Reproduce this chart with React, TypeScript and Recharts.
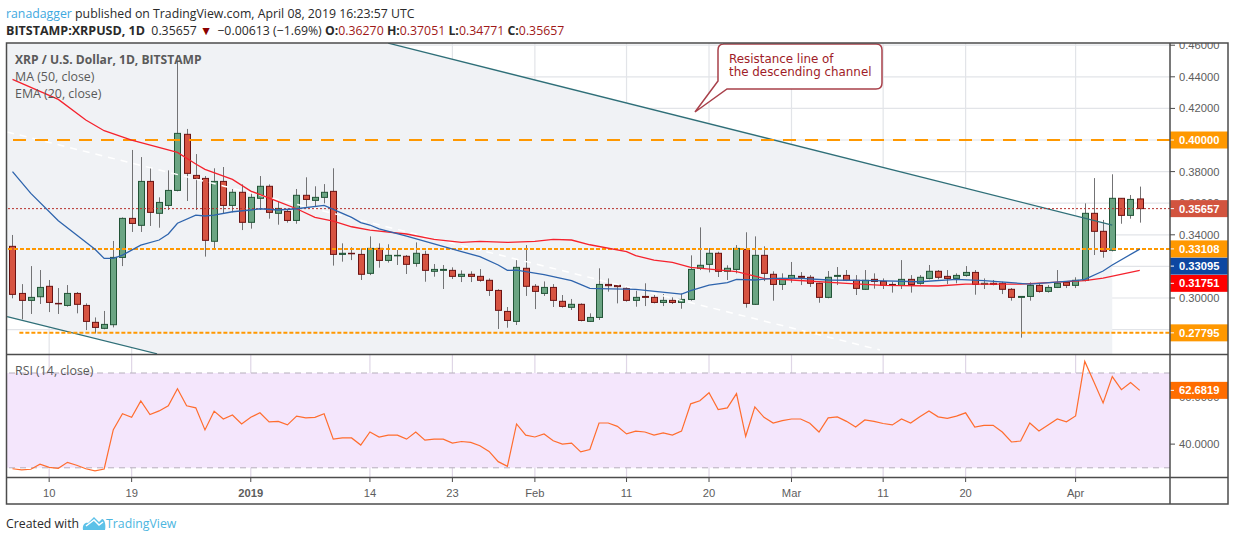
import {
  Area,
  Bar,
  CartesianGrid,
  ComposedChart,
  Line,
  ReferenceArea,
  ReferenceLine,
  XAxis,
  YAxis,
} from "recharts";

// daily candles, 2018-12-06 (day 0) to 2019-04-08 (day 123)
const opens = [
  0.3327, 0.3029, 0.2985, 0.3008, 0.3074, 0.2966, 0.2953, 0.3029, 0.2953, 0.2846, 0.2808, 0.2831, 0.3257, 0.3504, 0.346, 0.3738,
  0.3536, 0.3586, 0.3681, 0.4036, 0.3776, 0.3757, 0.3359, 0.3738, 0.3586, 0.3669, 0.3479, 0.3631, 0.3707, 0.3536, 0.3548, 0.3491,
  0.365, 0.3618, 0.3637, 0.3675, 0.3276, 0.3283, 0.3276, 0.3156, 0.3314, 0.3238, 0.3268, 0.3264, 0.3219, 0.3276, 0.3169, 0.3175,
  0.3175, 0.3137, 0.315, 0.3137, 0.3112, 0.3048, 0.2915, 0.2852, 0.3188, 0.3074, 0.3029, 0.3067, 0.2979, 0.2941, 0.296, 0.2852,
  0.2877, 0.3086, 0.308, 0.3061, 0.2985, 0.301, 0.3004, 0.2972, 0.2985, 0.2972, 0.2991, 0.3188, 0.3213, 0.3283, 0.3169, 0.3181,
  0.3308, 0.296, 0.327, 0.315, 0.3086, 0.3124, 0.3137, 0.3131, 0.3093, 0.3004, 0.3137, 0.3143, 0.3112, 0.3055, 0.3118, 0.3105,
  0.3086, 0.308, 0.3118, 0.3093, 0.3124, 0.3169, 0.3137, 0.3124, 0.3143, 0.3162, 0.3086, 0.3093, 0.3093, 0.3055, 0.3004, 0.301,
  0.308, 0.3042, 0.3067, 0.3099, 0.308, 0.3112, 0.3536, 0.3422, 0.3302, 0.3631, 0.3523, 0.3627,
];
const highs = [
  0.3399, 0.3088, 0.3202, 0.3177, 0.3114, 0.3063, 0.3082, 0.3038, 0.2966, 0.2877, 0.2918, 0.3361, 0.351, 0.3937, 0.3892, 0.3829,
  0.3637, 0.3808, 0.4494, 0.407, 0.3911, 0.3772, 0.3821, 0.3829, 0.369, 0.3719, 0.3671, 0.3772, 0.3719, 0.3612, 0.3561, 0.369,
  0.3764, 0.3707, 0.3721, 0.3821, 0.3346, 0.3321, 0.3314, 0.339, 0.3346, 0.334, 0.3304, 0.3272, 0.3352, 0.3299, 0.3215, 0.3209,
  0.3194, 0.3175, 0.3169, 0.3183, 0.3124, 0.3055, 0.2943, 0.324, 0.3335, 0.3088, 0.3105, 0.3088, 0.3019, 0.2994, 0.2966, 0.2903,
  0.3188, 0.3124, 0.3088, 0.3076, 0.3046, 0.3093, 0.3019, 0.3025, 0.3004, 0.3029, 0.327, 0.3447, 0.3316, 0.3293, 0.3207, 0.3335,
  0.3416, 0.339, 0.3327, 0.3169, 0.3156, 0.3228, 0.3164, 0.3145, 0.3097, 0.3171, 0.3196, 0.3177, 0.3145, 0.3177, 0.3156, 0.3124,
  0.3103, 0.324, 0.3145, 0.3145, 0.3209, 0.3177, 0.3177, 0.3156, 0.3202, 0.3177, 0.3124, 0.3114, 0.3103, 0.3063, 0.301, 0.3099,
  0.3093, 0.3082, 0.3177, 0.3107, 0.3131, 0.3599, 0.3759, 0.3494, 0.3783, 0.3631, 0.3652, 0.37051,
];
const lows = [
  0.2998, 0.2865, 0.2899, 0.2962, 0.2911, 0.2899, 0.2945, 0.2903, 0.2797, 0.2776, 0.2802, 0.2814, 0.3202, 0.3418, 0.3418, 0.3456,
  0.3445, 0.3557, 0.3675, 0.3614, 0.3557, 0.3262, 0.3308, 0.3536, 0.3542, 0.343, 0.3439, 0.3557, 0.3502, 0.3464, 0.3477, 0.347,
  0.3578, 0.3578, 0.3599, 0.3205, 0.323, 0.324, 0.3114, 0.3145, 0.3192, 0.3224, 0.3209, 0.3152, 0.3198, 0.3103, 0.3135, 0.3057,
  0.312, 0.3101, 0.3101, 0.3103, 0.3013, 0.2804, 0.2812, 0.2829, 0.3013, 0.293, 0.3013, 0.2943, 0.2939, 0.2924, 0.2852, 0.2848,
  0.2861, 0.304, 0.2966, 0.2977, 0.2945, 0.2949, 0.2966, 0.2949, 0.2962, 0.2932, 0.2983, 0.3177, 0.3162, 0.3133, 0.3114, 0.3156,
  0.2939, 0.2956, 0.3107, 0.2983, 0.3051, 0.3097, 0.3082, 0.307, 0.297, 0.2998, 0.3082, 0.3107, 0.3019, 0.3051, 0.3059, 0.3057,
  0.3034, 0.3057, 0.3034, 0.3084, 0.3118, 0.3118, 0.3088, 0.3093, 0.3135, 0.3021, 0.3057, 0.308, 0.3025, 0.2983, 0.2749, 0.2983,
  0.3034, 0.3034, 0.3063, 0.3063, 0.3063, 0.3105, 0.3272, 0.3255, 0.3295, 0.347, 0.3502, 0.34771,
];
const closes = [
  0.3023, 0.2985, 0.3004, 0.3067, 0.2972, 0.2964, 0.3029, 0.296, 0.2852, 0.2814, 0.2833, 0.3257, 0.3504, 0.3472, 0.3738, 0.3542,
  0.3605, 0.3681, 0.4042, 0.3789, 0.3757, 0.3365, 0.3738, 0.3586, 0.3669, 0.3479, 0.3637, 0.3707, 0.3542, 0.3567, 0.3491, 0.365,
  0.3624, 0.3637, 0.3669, 0.3276, 0.3283, 0.328, 0.315, 0.3314, 0.3238, 0.327, 0.327, 0.3213, 0.3283, 0.3175, 0.3181, 0.3181,
  0.3137, 0.315, 0.3137, 0.3112, 0.3048, 0.2922, 0.2858, 0.3194, 0.3074, 0.3042, 0.3067, 0.2985, 0.2947, 0.296, 0.2858, 0.2877,
  0.3086, 0.3078, 0.3072, 0.2985, 0.3004, 0.3004, 0.2972, 0.2985, 0.2972, 0.2991, 0.3181, 0.3207, 0.3283, 0.3169, 0.3188, 0.3314,
  0.2966, 0.327, 0.3156, 0.3086, 0.3124, 0.3143, 0.3131, 0.3093, 0.3004, 0.3131, 0.3143, 0.3112, 0.3061, 0.3112, 0.3105, 0.308,
  0.308, 0.3118, 0.3086, 0.3131, 0.3169, 0.3131, 0.3124, 0.3143, 0.3162, 0.3086, 0.3093, 0.3086, 0.3055, 0.3004, 0.301, 0.308,
  0.3042, 0.3067, 0.3093, 0.308, 0.3112, 0.3536, 0.3422, 0.3295, 0.3631, 0.3523, 0.3624, 0.35657,
];

const maDays = [0, 5, 8, 10, 13, 18, 20, 21, 24, 26, 29, 31, 33, 35, 37, 39, 43, 46, 49, 51, 54, 57, 59, 61, 63, 67, 68, 70, 72, 74, 79, 82, 85, 91, 95, 101, 104, 110, 113, 117, 119, 123];
const maValues = [
  0.4384, 0.4257, 0.4127, 0.4059, 0.4, 0.3922, 0.3848, 0.3814, 0.3751, 0.3677, 0.361, 0.3565, 0.351, 0.3487, 0.3451, 0.343, 0.3405, 0.3371, 0.3352, 0.3359, 0.3352,
  0.3359, 0.3371, 0.3367, 0.3337, 0.3293, 0.3268, 0.324, 0.3226, 0.3194, 0.3167, 0.3124, 0.3114, 0.3093, 0.308, 0.3076, 0.3088, 0.3088, 0.3097, 0.311, 0.3126, 0.31751,
];
const emaDays = [0, 2, 5, 7, 9, 10, 11, 12, 14, 16, 17, 18, 20, 21, 22, 24, 26, 27, 29, 31, 34, 35, 37, 38, 39, 40, 43, 46, 49, 51, 53, 54, 55, 58, 61, 63, 64, 68, 73, 74, 76, 78, 79, 81, 83, 86, 89, 94, 99, 103, 106, 111, 116, 117, 119, 120, 123];
const emaValues = [
  0.38, 0.3662, 0.3489, 0.3399, 0.3308, 0.3251, 0.3251, 0.3272, 0.3335, 0.3367, 0.3405, 0.3473, 0.3525, 0.3519, 0.3525, 0.3546, 0.3557, 0.3565, 0.3557, 0.3565,
  0.3586, 0.3561, 0.351, 0.3477, 0.3462, 0.3437, 0.3392, 0.3342, 0.3293, 0.3262, 0.3209, 0.3175, 0.3177, 0.3148, 0.311, 0.3061, 0.3059, 0.3055, 0.3025, 0.3046,
  0.3082, 0.3097, 0.3118, 0.3114, 0.3124, 0.3124, 0.3114, 0.311, 0.3103, 0.3118, 0.311, 0.3088, 0.311, 0.3118, 0.3171, 0.3209, 0.33095,
];
const rsiValues = [
  29.6, 29.1, 29.4, 31.5, 30.2, 29.8, 32.3, 31.1, 29.6, 28.7, 29.5, 46.1, 52.8, 51.3, 58.2, 52.5, 54.0, 56.2, 63.4, 56.2, 55.3, 46.0, 53.9, 50.6, 52.3, 48.5, 51.3, 53.2, 49.4, 49.6, 48.1,
  51.8, 51.1, 51.3, 52.8, 42.1, 42.6, 42.6, 39.6, 45.1, 43.0, 43.8, 43.8, 42.1, 45.1, 41.7, 42.1, 42.1, 40.4, 41.1, 40.7, 39.3, 36.9, 32.6, 30.6, 48.5, 43.8, 43.0, 44.3, 41.4, 40.0, 40.4,
  36.7, 37.7, 48.9, 48.9, 47.5, 44.3, 45.5, 45.1, 43.8, 44.7, 43.8, 45.5, 57.0, 58.3, 61.7, 54.6, 55.3, 61.3, 43.3, 55.7, 51.3, 48.9, 49.9, 50.6, 50.6, 48.8, 45.1, 51.1, 51.5, 49.6, 47.2,
  50.2, 49.6, 48.7, 48.1, 50.6, 48.9, 51.5, 54.0, 51.5, 50.9, 51.8, 53.2, 47.2, 47.9, 47.9, 45.1, 40.9, 41.3, 48.9, 45.5, 48.1, 50.6, 49.4, 51.9, 74.9, 66.2, 57.4, 68.5, 63.0, 66.0, 62.6819,
];

const tickDays = [4, 13, 26, 39, 48, 57, 67, 76, 85, 95, 104, 116];
const tickLabels = ["10", "19", "2019", "14", "23", "Feb", "11", "20", "Mar", "11", "20", "Apr"];

const priceGrid = [0.28, 0.3, 0.32, 0.34, 0.36, 0.38, 0.4, 0.42, 0.44, 0.46];
const rsiGrid = [40, 60];

const channelBand = [
  { day: -0.59, band: [0.2882, 0.4614] },
  { day: 15.77, band: [0.2646, 0.4614] },
  { day: 41.0, band: [0.2646, 0.4614] },
  { day: 120.0, band: [0.2646, 0.3462] },
];
const upperChannel = [
  { x: 41.0, y: 0.4613 },
  { x: 120.0, y: 0.3462 },
];
const lowerChannel = [
  { x: -0.59, y: 0.2882 },
  { x: 15.77, y: 0.2647 },
];
const middleChannel = [
  { x: -0.59, y: 0.4051 },
  { x: 94.65, y: 0.2671 },
];

const PRICE_DOMAIN = [0.26456, 0.4614];
const RSI_DOMAIN = [25.7, 77.6];
const DAY_DOMAIN = [-0.6, 126.3];

const priceBadges: Record<string, { text: string; fill: string; nudge: number }> = {
  "0.35657": { text: "0.35657", fill: "#d2543f", nudge: 0 },
  "0.4": { text: "0.40000", fill: "#ff9800", nudge: 0 },
  "0.33108": { text: "0.33108", fill: "#ff9800", nudge: 0 },
  "0.33095": { text: "0.33095", fill: "#0d47a1", nudge: 17 },
  "0.31751": { text: "0.31751", fill: "#ff0000", nudge: 13 },
  "0.27795": { text: "0.27795", fill: "#ff9800", nudge: 0 },
};
const priceTicks = [0.28, 0.3, 0.32, 0.34, 0.36, 0.38, 0.42, 0.44, 0.46, 0.4, 0.35657, 0.27795, 0.31751, 0.33095, 0.33108];

const candles = opens.map((open, i) => ({
  day: i,
  open,
  close: closes[i],
  high: highs[i],
  low: lows[i],
  range: [lows[i], highs[i]],
  ma: maDays.includes(i) ? maValues[maDays.indexOf(i)] : undefined,
  ema: emaDays.includes(i) ? emaValues[emaDays.indexOf(i)] : undefined,
  rsi: rsiValues[i],
}));

const AXIS_FONT = "'Liberation Sans', Arial, sans-serif";
const TEXT_FONT = "'Open Sans', sans-serif";
const GRID = "#e2e4e8";
const FRAME = "#4c4c4c";
const AXIS_SIZE = 11.2;

function Candle(props: any) {
  const { x, y, width, height, payload } = props;
  const cx = Math.round(x + width / 2) + 0.5;
  const ratio = height / (payload.high - payload.low);
  const top = y + (payload.high - Math.max(payload.open, payload.close)) * ratio;
  const bottom = y + (payload.high - Math.min(payload.open, payload.close)) * ratio;
  const up = payload.close >= payload.open;
  return (
    <g>
      <line x1={cx} x2={cx} y1={y} y2={y + height} stroke="#737375" strokeWidth={1} />
      <rect
        x={cx - 3}
        y={top}
        width={6}
        height={Math.max(bottom - top, 0.5)}
        fill={up ? "#6ba583" : "#d75442"}
        stroke={up ? "#225437" : "#6b1313"}
        strokeWidth={1}
      />
    </g>
  );
}

function PriceTick(props: any) {
  const { x, y, payload } = props;
  const badge = priceBadges[String(payload.value)];
  if (badge) {
    const cy = y + badge.nudge;
    return (
      <g>
        <rect x={x} y={cy - 8.5} width={58} height={17} fill={badge.fill} />
        <line x1={x} x2={x + 4} y1={cy} y2={cy} stroke="#fff" />
        <text x={x + 9} y={cy + 4} fontSize={AXIS_SIZE} fontWeight={700} fill="#fff" fontFamily={AXIS_FONT}>
          {badge.text}
        </text>
      </g>
    );
  }
  return (
    <g>
      <line x1={x} x2={x + 5} y1={y} y2={y} stroke={FRAME} />
      <text x={x + 9} y={y + 4} fontSize={AXIS_SIZE} fill="#5d5d5d" fontFamily={AXIS_FONT}>
        {payload.value.toFixed(5)}
      </text>
    </g>
  );
}

function RsiTick(props: any) {
  const { x, y, payload } = props;
  if (payload.value === 62.6819) {
    return (
      <g>
        <rect x={x} y={y - 8.5} width={58} height={17} fill="#ff6d00" />
        <line x1={x} x2={x + 4} y1={y} y2={y} stroke="#fff" />
        <text x={x + 9} y={y + 4} fontSize={AXIS_SIZE} fontWeight={700} fill="#fff" fontFamily={AXIS_FONT}>
          62.6819
        </text>
      </g>
    );
  }
  return (
    <g>
      <line x1={x} x2={x + 5} y1={y} y2={y} stroke={FRAME} />
      <text x={x + 9} y={y + 4} fontSize={AXIS_SIZE} fill="#5d5d5d" fontFamily={AXIS_FONT}>
        {payload.value.toFixed(4)}
      </text>
    </g>
  );
}

function DayTick(props: any) {
  const { x, y, payload } = props;
  const label = tickLabels[tickDays.indexOf(payload.value)];
  return (
    <g>
      <line x1={x} x2={x} y1={y} y2={y + 4} stroke={FRAME} />
      <text
        x={x}
        y={y + 18.5}
        textAnchor="middle"
        fontSize={AXIS_SIZE}
        fontWeight={label === "2019" ? 700 : 400}
        fill="#5d5d5d"
        fontFamily={AXIS_FONT}
      >
        {label}
      </text>
    </g>
  );
}

function PriceChart() {
  return (
    <ComposedChart
      width={1234}
      height={311}
      data={candles}
      margin={{ top: 0, right: 6, bottom: 0, left: 7 }}
    >
      <XAxis type="number" dataKey="day" domain={DAY_DOMAIN} allowDataOverflow hide />
      <YAxis
        type="number"
        orientation="right"
        domain={PRICE_DOMAIN}
        allowDataOverflow
        ticks={priceTicks}
        interval={0}
        width={58}
        tick={<PriceTick />}
        tickSize={0}
        tickMargin={0}
        tickLine={false}
        axisLine={false}
      />
      <Area
        data={channelBand}
        dataKey="band"
        type="linear"
        stroke="none"
        fill="#f0f2f5"
        fillOpacity={1}
        isAnimationActive={false}
      />
      <CartesianGrid stroke={GRID} strokeWidth={1.2} verticalValues={tickDays} horizontalValues={priceGrid} />
      <ReferenceLine segment={middleChannel} stroke="#ffffff" strokeWidth={1.5} strokeDasharray="7 6" />
      <ReferenceLine segment={upperChannel} stroke="#2f6f78" strokeWidth={1.3} />
      <ReferenceLine segment={lowerChannel} stroke="#2f6f78" strokeWidth={1.3} />
      <ReferenceLine y={0.4} stroke="#ff9800" strokeWidth={2} strokeDasharray="13 9" />
      <ReferenceLine y={0.33108} stroke="#ff9800" strokeWidth={2} strokeDasharray="4 2" />
      <ReferenceLine
        segment={[
          { x: 0.75, y: 0.27795 },
          { x: 126.3, y: 0.27795 },
        ]}
        stroke="#ff9800"
        strokeWidth={2}
        strokeDasharray="4 2"
      />
      <ReferenceLine y={0.35657} stroke="#b7312c" strokeWidth={1} strokeDasharray="2 2" />
      <Line dataKey="ma" type="linear" connectNulls stroke="#f5222d" strokeWidth={1.3} dot={false} activeDot={false} isAnimationActive={false} />
      <Line dataKey="ema" type="linear" connectNulls stroke="#2e64ad" strokeWidth={1.3} dot={false} activeDot={false} isAnimationActive={false} />
      <Bar dataKey="range" barSize={7} shape={<Candle />} isAnimationActive={false} />
    </ComposedChart>
  );
}

function RsiChart() {
  return (
    <ComposedChart
      width={1234}
      height={150}
      data={candles}
      margin={{ top: 0, right: 6, bottom: 0, left: 7 }}
    >
      <XAxis
        type="number"
        dataKey="day"
        domain={DAY_DOMAIN}
        allowDataOverflow
        ticks={tickDays}
        interval={0}
        height={27}
        tick={<DayTick />}
        tickSize={0}
        tickMargin={0}
        tickLine={false}
        axisLine={false}
      />
      <YAxis
        type="number"
        orientation="right"
        domain={RSI_DOMAIN}
        allowDataOverflow
        ticks={[40, 60, 62.6819]}
        interval={0}
        width={58}
        tick={<RsiTick />}
        tickSize={0}
        tickMargin={0}
        tickLine={false}
        axisLine={false}
      />
      <ReferenceArea y1={30} y2={70} fill="#f4e6fc" fillOpacity={1} stroke="none" />
      <CartesianGrid stroke="#dfd6e6" strokeWidth={1.2} verticalValues={tickDays} horizontalValues={rsiGrid} />
      <ReferenceLine y={70} stroke="#b5aebb" strokeDasharray="6 5" />
      <ReferenceLine y={30} stroke="#b5aebb" strokeDasharray="6 5" />
      <Line dataKey="rsi" type="linear" stroke="#ff6d2e" strokeWidth={1.2} dot={false} activeDot={false} isAnimationActive={false} />
    </ComposedChart>
  );
}

const paneLabel = {
  position: "absolute" as const,
  left: 15,
  fontFamily: TEXT_FONT,
  fontSize: 12.4,
  color: "#5a5a5a",
  lineHeight: "16px",
  whiteSpace: "nowrap" as const,
};
const headerLine = {
  position: "absolute" as const,
  left: 6,
  fontFamily: TEXT_FONT,
  fontSize: 12.3,
  lineHeight: "17px",
  color: "#2a2a2a",
  whiteSpace: "nowrap" as const,
};
const redValue = { color: "#a01818" };

export default function App() {
  return (
    <div style={{ position: "absolute", left: 0, top: 0, width: 1234, height: 541, background: "#fff", overflow: "hidden" }}>
      <div style={{ ...headerLine, top: 5 }}>
        <span style={{ color: "#3fa9e0" }}>ranadagger</span> published on TradingView.com, April 08, 2019 16:23:57 UTC
      </div>
      <div style={{ ...headerLine, top: 21.5 }}>
        <b style={{ fontSize: 12.5 }}>BITSTAMP:XRPUSD, 1D</b>&nbsp; 0.35657 <span style={{ color: "#8b0000", marginRight: 2 }}>▼</span> −0.00613 (−1.69%) <b>O:</b>
        <span style={redValue}>0.36270</span> <b>H:</b>
        <span style={redValue}>0.37051</span> <b>L:</b>
        <span style={redValue}>0.34771</span> <b>C:</b>
        <span style={redValue}>0.35657</span>
      </div>

      <div style={{ position: "absolute", left: 0, top: 43 }}>
        <PriceChart />
      </div>
      <div style={{ position: "absolute", left: 0, top: 354.5 }}>
        <RsiChart />
      </div>

      <div style={{ ...paneLabel, top: 52, fontWeight: 700, fontSize: 12.1 }}>XRP / U.S. Dollar, 1D, BITSTAMP</div>
      <div style={{ ...paneLabel, top: 69 }}>MA (50, close)</div>
      <div style={{ ...paneLabel, top: 86 }}>EMA (20, close)</div>
      <div style={{ ...paneLabel, top: 363 }}>RSI (14, close)</div>

      {/* callout and pane frame */}
      <svg width={1234} height={541} style={{ position: "absolute", left: 0, top: 0, pointerEvents: "none" }}>
        <path
          d="M723 44 H876 Q882 44 882 50 V83 Q882 89 876 89 H727 L695 112 L718 81 V50 Q718 44 724 44 Z"
          fill="#fff"
          stroke="#a8404a"
          strokeWidth={1.5}
        />
        <text x={729} y={63} fontSize={11.9} fill="#a01c28" fontFamily="'DejaVu Sans', sans-serif">
          Resistance line of
        </text>
        <text x={729} y={76} fontSize={11.9} fill="#a01c28" fontFamily="'DejaVu Sans', sans-serif">
          the descending channel
        </text>
        <rect x={6.5} y={43} width={1221.5} height={461} fill="none" stroke={FRAME} strokeWidth={1.5} />
        <line x1={6.5} x2={1228} y1={354.5} y2={354.5} stroke={FRAME} strokeWidth={1.5} />
        <line x1={6.5} x2={1228} y1={477.5} y2={477.5} stroke={FRAME} strokeWidth={1.5} />
        <line x1={1170} x2={1170} y1={43} y2={504} stroke={FRAME} strokeWidth={1.5} />
        <path
          d="M83 530 C82 524 86 522 88 523 L94 517 L99 522 L102 519 C105 519 106 526 105 530 Z"
          fill="#5cc1e8"
        />
        <path d="M86 526 L94 520 L99 525 L103 522" fill="none" stroke="#fff" strokeWidth={1.5} />
      </svg>

      <div style={{ ...headerLine, top: 515, lineHeight: "18px" }}>Created with</div>
      <div style={{ ...headerLine, left: 106, top: 515, lineHeight: "18px", color: "#4cb6e0" }}>TradingView</div>
    </div>
  );
}
